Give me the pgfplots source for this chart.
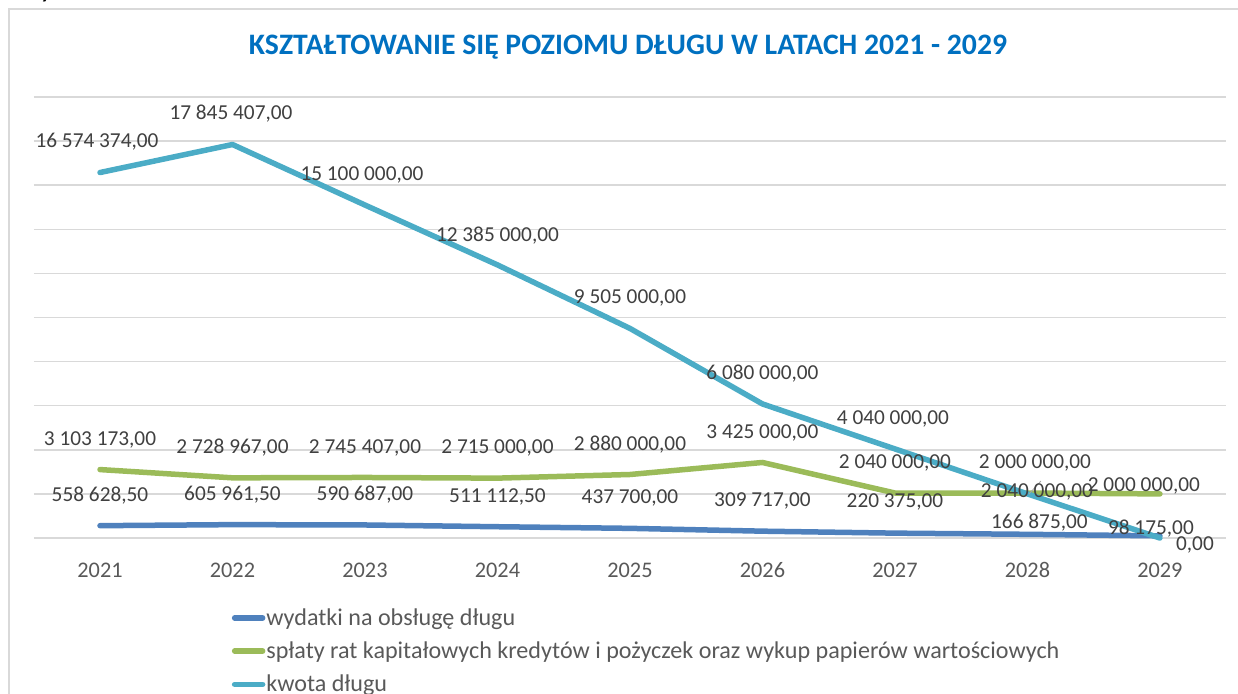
\documentclass[border=0pt]{standalone}
\usepackage{pgfplots}
\pgfplotsset{compat=1.18}
\usepackage{fontspec}
\setmainfont{Carlito}
\definecolor{titleblue}{RGB}{0,112,192}
\definecolor{gridgray}{RGB}{217,217,217}
\definecolor{lblgray}{RGB}{64,64,64}
\definecolor{tickgray}{RGB}{89,89,89}
\definecolor{cblue}{RGB}{79,129,189}
\definecolor{cgreen}{RGB}{155,187,89}
\definecolor{cteal}{RGB}{75,172,198}
\begin{document}
\begin{tikzpicture}[x=1pt,y=1pt]
\useasboundingbox (0,0) rectangle (1238,693);
% frame
\draw[gridgray,line width=1.5pt] (9,-5) -- (9,684) -- (1245,684);
\node[anchor=base,font=\bfseries\itshape\fontsize{22}{26}\selectfont] at (47,694) {y};
% title
\node[font=\bfseries\fontsize{29.7}{34}\selectfont,text=titleblue] at (628,646) {KSZTAŁTOWANIE SIĘ POZIOMU DŁUGU W LATACH 2021 - 2029};
\begin{axis}[
  at={(33.75pt,155pt)}, anchor=south west,
  scale only axis, width=1192.5pt, height=441pt,
  xmin=2020.5, xmax=2029.5, ymin=0, ymax=20000000,
  scaled y ticks=false,
  xtick={2021,2022,2023,2024,2025,2026,2027,2028,2029},
  xticklabels={2021,2022,2023,2024,2025,2026,2027,2028,2029},
  xticklabel style={anchor=center,yshift=-32pt,font=\fontsize{22.3}{26}\selectfont,text=tickgray},
  ytick={0,2000000,4000000,6000000,8000000,10000000,12000000,14000000,16000000,18000000,20000000},
  yticklabels={},
  ymajorgrids,
  major grid style={draw=gridgray,line width=1.4pt},
  axis line style={draw=none},
  major tick length=0pt,
  tick style={draw=none},
  clip=false,
  legend style={at={(0.166,-0.160)},anchor=north west,draw=none,fill=none,
    font=\fontsize{24.1}{29}\selectfont,text=tickgray,row sep=15pt,
    inner sep=0pt,nodes={inner xsep=1pt,inner ysep=0pt}},
  legend cell align=left,
  legend image code/.code={\draw[#1,line cap=round] (0pt,0pt) -- (28pt,0pt);},
  every axis plot/.append style={line width=5.5pt,line cap=round,line join=round,mark=none},
]
\addplot[cblue] coordinates {(2021,558628.50) (2022,605961.50) (2023,590687.00) (2024,511112.50) (2025,437700.00) (2026,309717.00) (2027,220375.00) (2028,166875.00) (2029,98175.00)};
\addlegendentry{wydatki na obsługę długu}
\addplot[cgreen] coordinates {(2021,3103173) (2022,2728967) (2023,2745407) (2024,2715000) (2025,2880000) (2026,3425000) (2027,2040000) (2028,2040000) (2029,2000000)};
\addlegendentry{spłaty rat kapitałowych kredytów i pożyczek oraz wykup papierów wartościowych}
\addplot[cteal] coordinates {(2021,16574374) (2022,17845407) (2023,15100000) (2024,12385000) (2025,9505000) (2026,6080000) (2027,4040000) (2028,2000000) (2029,0)};
\addlegendentry{kwota długu}
% data labels
\tikzset{lbl/.style={font=\fontsize{21.3}{25}\selectfont,text=lblgray,inner sep=0pt}}
% kwota
\node[lbl,xshift=-3pt,yshift=31pt] at (axis cs:2021,16574374) {16 574 374,00};
\node[lbl,xshift=-1.5pt,yshift=31pt] at (axis cs:2022,17845407) {17 845 407,00};
\node[lbl,xshift=-3pt,yshift=30pt] at (axis cs:2023,15100000) {15 100 000,00};
\node[lbl,yshift=29pt] at (axis cs:2024,12385000) {12 385 000,00};
\node[lbl,yshift=30pt] at (axis cs:2025,9505000) {9 505 000,00};
\node[lbl,yshift=30pt] at (axis cs:2026,6080000) {6 080 000,00};
\node[lbl,xshift=-2pt,yshift=30pt] at (axis cs:2027,4040000) {4 040 000,00};
\node[lbl,xshift=7.5pt,yshift=31pt] at (axis cs:2028,2000000) {2 000 000,00};
\node[lbl,xshift=35pt,yshift=-7pt] at (axis cs:2029,0) {0,00};
% green
\node[lbl,yshift=30pt] at (axis cs:2021,3103173) {3 103 173,00};
\node[lbl,yshift=30pt] at (axis cs:2022,2728967) {2 728 967,00};
\node[lbl,yshift=30pt] at (axis cs:2023,2745407) {2 745 407,00};
\node[lbl,yshift=30pt] at (axis cs:2024,2715000) {2 715 000,00};
\node[lbl,yshift=30pt] at (axis cs:2025,2880000) {2 880 000,00};
\node[lbl,yshift=30pt] at (axis cs:2026,3425000) {3 425 000,00};
\node[lbl,yshift=30pt] at (axis cs:2027,2040000) {2 040 000,00};
\draw[gray!70,line width=0.8pt] ([shift={(1.5pt,-1pt)}]axis cs:2028,2040000) -- ([shift={(13.5pt,12pt)}]axis cs:2028,2040000);
\node[lbl,xshift=9.5pt,yshift=1pt] at (axis cs:2028,2040000) {2 040 000,00};
\node[lbl,xshift=-16pt,yshift=8pt] at (axis cs:2029,2000000) {2 000 000,00};
% blue
\node[lbl,yshift=30pt] at (axis cs:2021,558628.50) {558 628,50};
\node[lbl,yshift=30pt] at (axis cs:2022,605961.50) {605 961,50};
\node[lbl,yshift=30pt] at (axis cs:2023,590687.00) {590 687,00};
\node[lbl,yshift=30pt] at (axis cs:2024,511112.50) {511 112,50};
\node[lbl,yshift=30pt] at (axis cs:2025,437700.00) {437 700,00};
\node[lbl,yshift=30pt] at (axis cs:2026,309717.00) {309 717,00};
\node[lbl,yshift=31pt] at (axis cs:2027,220375.00) {220 375,00};
\node[lbl,xshift=12pt,yshift=12pt] at (axis cs:2028,166875.00) {166 875,00};
\node[lbl,xshift=-9pt,yshift=7pt] at (axis cs:2029,98175.00) {98 175,00};
\end{axis}
\end{tikzpicture}
\end{document}
